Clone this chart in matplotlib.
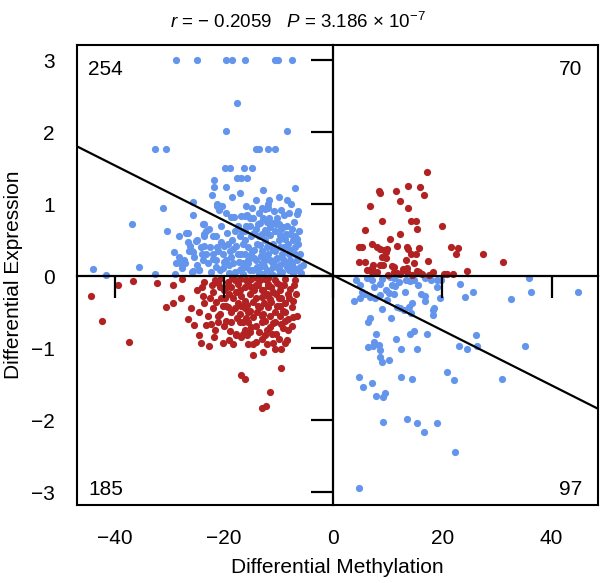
import numpy as np
import matplotlib
matplotlib.use('Agg')
import matplotlib.pyplot as plt

# Fonts
plt.rcParams['font.family'] = ['Liberation Sans', 'DejaVu Sans']
plt.rcParams['mathtext.fontset'] = 'custom'
plt.rcParams['mathtext.rm'] = 'Liberation Sans'
plt.rcParams['mathtext.it'] = 'Liberation Sans:italic'

# Data: (differential methylation, differential expression)
# blue = opposite direction (upper left / lower right), red = same direction
blue_upper_left = [
    (-28.7, 3.0), (-24.9, 3.0), (-19.7, 3.0), (-18.6, 3.0), (-16.2, 3.0), (-10.7, 3.0), (-10.1, 3.0), (-7.6, 3.0),
    (-17.6, 2.41), (-19.6, 2.01), (-8.4, 2.01),
    (-14.1, 1.77), (-13.6, 1.77), (-11.9, 1.77), (-10.6, 1.77), (-32.6, 1.77), (-30.6, 1.77),
    (-19.8, 1.50), (-18.8, 1.50), (-16.4, 1.50), (-14.9, 1.50),
    (-17.6, 1.36), (-16.8, 1.36), (-15.7, 1.36), (-21.8, 1.34), (-21.9, 1.24), (-19.7, 1.24), (-7.0, 1.23), (-22.2, 1.13),
    (-8.4, 1.05), (-11.7, 1.05), (-6.7, 0.86), (-21.2, 0.98), (-20.3, 0.98),
    (-25.7, 1.03), (-31.1, 0.94), (-25.7, 0.85), (-36.9, 0.73), (-30.4, 0.63), (-28.3, 0.56), (-26.6, 0.60), (-24.9, 0.50),
    (-29.2, 0.34), (-26.2, 0.42), (-25.7, 0.34), (-28.3, 0.27), (-24.1, 0.31), (-28.7, 0.18), (-28.0, 0.18), (-27.2, 0.18),
    (-24.5, 0.09), (-25.8, 0.06), (-44.0, 0.10), (-41.5, 0.01), (-35.6, 0.12), (-32.7, 0.03), (-28.9, 0.03),
    (-23.6, 0.72), (-23.6, 0.58), (-23.6, 0.42),
    (-11.9, 1.00), (-21.3, 1.00), (-20.9, 0.92), (-13.1, 0.95), (-19.6, 0.88), (-18.7, 0.82), (-18.2, 0.82), (-16.8, 0.84),
    (-16.2, 0.84), (-15.3, 0.81), (-13.6, 0.88), (-12.5, 0.93), (-12.9, 0.81), (-10.3, 0.81), (-13.4, 0.74), (-12.1, 0.75),
    (-11.0, 0.74), (-9.9, 0.73), (-9.2, 0.68),
    (-23.9, 0.73), (-26.9, 0.60), (-26.6, 0.48), (-25.8, 0.35), (-25.1, 0.49), (-23.6, 0.55), (-23.3, 0.62), (-22.0, 0.55),
    (-21.3, 0.41), (-19.9, 0.42), (-18.4, 0.38), (-18.0, 0.62), (-16.6, 0.62), (-16.2, 0.50), (-15.3, 0.69), (-14.7, 0.59),
    (-14.1, 0.66), (-13.1, 0.59), (-12.5, 0.64), (-11.6, 0.57), (-10.7, 0.62), (-9.8, 0.57), (-8.85, 0.52), (-7.9, 0.59),
    (-7.3, 0.50), (-6.6, 0.52), (-7.0, 0.41), (-7.9, 0.36), (-9.8, 0.41), (-11.0, 0.36), (-12.2, 0.41), (-13.4, 0.43),
    (-14.4, 0.36), (-15.0, 0.29), (-15.6, 0.22), (-14.1, 0.22), (-12.8, 0.27), (-11.6, 0.22), (-10.4, 0.24), (-9.15, 0.24),
    (-7.9, 0.22), (-6.7, 0.22), (-6.1, 0.13), (-7.3, 0.13), (-8.5, 0.13), (-9.8, 0.15), (-11.0, 0.13), (-12.2, 0.08),
    (-13.4, 0.13), (-14.7, 0.08), (-15.9, 0.13), (-17.1, 0.08), (-18.4, 0.18), (-19.6, 0.22), (-20.2, 0.11), (-21.4, 0.13),
    (-22.0, 0.24), (-23.3, 0.31), (-23.9, 0.23), (-25.4, 0.26), (-27.3, 0.22), (-27.6, 0.11), (-25.7, 0.07), (-24.5, 0.08),
    (-22.35, 0.05), (-19.0, 0.04), (-16.5, 0.03), (-12.8, 0.03), (-9.8, 0.04), (-7.3, 0.04), (-5.8, 0.04), (-20.2, 0.31),
    (-18.7, 0.27), (-16.8, 0.31), (-21.4, 0.22),
    (-16.0, 0.70), (-15.0, 0.55), (-14.0, 0.45), (-13.0, 0.35), (-12.0, 0.30), (-11.0, 0.45), (-10.0, 0.50), (-9.0, 0.40),
    (-8.0, 0.30), (-7.5, 0.65), (-8.5, 0.70), (-9.5, 0.65), (-10.5, 0.72), (-11.5, 0.68), (-12.5, 0.50), (-13.5, 0.55),
    (-14.5, 0.25), (-15.5, 0.40), (-16.5, 0.45), (-17.5, 0.30), (-10.0, 0.10), (-11.5, 0.05), (-13.0, 0.18), (-14.0, 0.12),
    (-15.2, 0.08), (-16.5, 0.18), (-8.0, 0.08), (-7.0, 0.30), (-6.5, 0.45), (-6.2, 0.62), (-9.0, 0.85), (-10.8, 0.90),
    (-12.0, 0.95), (-14.8, 0.95), (-16.0, 0.98), (-17.5, 0.70), (-18.5, 0.50), (-19.5, 0.60), (-20.5, 0.70), (-21.5, 0.55),
    (-22.5, 0.40), (-23.0, 0.18), (-20.8, 0.08), (-19.0, 0.15), (-18.0, 0.05), (-17.0, 0.55), (-12.2, 0.60), (-11.2, 0.20),
    (-9.3, 0.30), (-8.2, 0.45), (-7.6, 0.18), (-6.8, 0.08), (-13.8, 0.72), (-14.6, 0.80), (-15.8, 0.85), (-11.8, 0.80),
    (-10.2, 0.25), (-12.6, 0.14), (-9.0, 0.20), (-8.6, 0.58), (-10.6, 0.35), (-11.9, 0.42), (-13.2, 0.28), (-14.9, 0.35),
    (-16.2, 0.30), (-17.8, 0.42), (-18.9, 0.35), (-20.0, 0.20), (-21.0, 0.35), (-22.8, 0.65), (-24.2, 0.40), (-25.0, 0.15),
    (-26.4, 0.35), (-7.2, 0.75), (-8.0, 0.88), (-9.6, 0.92), (-15.5, 0.18), (-16.8, 0.10), (-13.6, 0.04), (-11.0, 0.02),
    (-6.0, 0.30), (-5.5, 0.15), (-6.5, 0.90), (-7.8, 1.00), (-10.0, 1.10), (-14.2, 1.05), (-17.0, 1.15), (-18.6, 1.10),
    (-12.8, 1.20), (-9.3, 0.05), (-10.8, 0.15), (-12.4, 0.22), (-14.5, 0.60), (-16.2, 0.62), (-17.2, 0.20), (-19.2, 0.45),
    (-20.6, 0.48), (-22.0, 0.30), (-8.8, 0.18), (-7.0, 0.55),
]

blue_lower_right = [
    (6.2, -0.03), (7.1, -0.05), (10.5, -0.01), (11.2, -0.03), (11.4, 0.0), (13.3, -0.05), (14.1, -0.07), (14.8, -0.06),
    (16.9, -0.03), (17.9, -0.06), (19.1, -0.05), (19.7, -0.06), (8.66, -0.11), (9.6, -0.19), (10.2, -0.23), (11.1, -0.25),
    (8.5, -0.26), (7.7, -0.31), (6.8, -0.29), (5.3, -0.22), (4.85, -0.31), (5.9, -0.25), (11.3, -0.14), (13.1, -0.22),
    (14.5, -0.38), (16.9, -0.28), (16.9, -0.35), (18.97, -0.15), (19.6, -0.30), (23.3, -0.11), (24.1, -0.29), (25.7, -0.22),
    (32.6, -0.32), (35.9, -0.02), (36.3, -0.22), (44.75, -0.22),
    (9.9, -0.33), (11.7, -0.43), (12.3, -0.44), (12.95, -0.47), (13.9, -0.43), (14.2, -0.51), (8.96, -0.46), (10.6, -0.58),
    (18.2, -0.47), (18.5, -0.44), (18.2, -0.54), (6.7, -0.58), (6.3, -0.64), (7.85, -0.81),
    (6.3, -0.98), (7.4, -0.91), (7.3, -0.97), (8.35, -0.96), (8.66, -1.02), (8.5, -1.13), (8.96, -1.19), (10.2, -1.16),
    (11.5, -0.88), (12.5, -1.01), (14.1, -0.80), (14.8, -0.76), (15.4, -1.01), (17.1, -0.81), (23.1, -0.97), (24.6, -1.01),
    (26.1, -0.82), (26.3, -0.97), (35.05, -0.97),
    (4.79, -1.40), (5.4, -1.54), (7.1, -1.48), (7.9, -1.67), (9.1, -1.68), (9.5, -1.62), (12.5, -1.40), (14.4, -1.43),
    (20.8, -1.33), (22.2, -1.44), (30.9, -1.43),
    (9.15, -2.03), (13.6, -1.99), (15.3, -2.04), (18.97, -2.04), (16.6, -2.17), (22.3, -2.45), (4.7, -2.94),
    (4.2, -0.05), (5.0, -0.12), (7.5, -0.15), (9.0, -0.04), (12.0, -0.08), (15.5, -0.12), (16.0, -0.25), (10.8, -0.12),
    (3.8, -0.35),
]

red_lower_left = [
    (-29.4, -0.13), (-27.6, -0.04), (-24.0, -0.15), (-23.6, -0.08), (-22.2, -0.13), (-21.7, -0.05), (-20.8, -0.15),
    (-19.3, -0.08), (-18.7, -0.15), (-17.4, -0.11), (-17.1, -0.04), (-16.2, -0.15), (-15.6, -0.08), (-15.0, -0.04),
    (-14.1, -0.13), (-13.4, -0.06), (-12.5, -0.04), (-11.9, -0.11), (-11.3, -0.15), (-10.7, -0.06), (-9.8, -0.13),
    (-8.8, -0.04), (-7.9, -0.18), (-7.0, -0.06), (-12.8, -0.20), (-12.2, -0.25), (-11.0, -0.22), (-9.8, -0.20),
    (-30.6, -0.43), (-29.4, -0.38), (-27.9, -0.31), (-23.9, -0.27), (-22.0, -0.22), (-21.4, -0.36), (-20.5, -0.31),
    (-19.6, -0.41), (-19.0, -0.25), (-18.4, -0.31), (-17.4, -0.38), (-16.8, -0.27), (-16.2, -0.34), (-15.3, -0.25),
    (-14.7, -0.36), (-13.8, -0.41), (-13.1, -0.29), (-11.9, -0.27), (-11.3, -0.36), (-10.4, -0.25), (-9.5, -0.31),
    (-8.8, -0.38), (-7.3, -0.35), (-9.8, -0.41), (-7.6, -0.43),
    (-26.6, -0.59), (-24.5, -0.50), (-23.6, -0.38), (-22.0, -0.45), (-20.8, -0.52), (-20.2, -0.41), (-19.3, -0.43),
    (-18.7, -0.50), (-18.0, -0.45), (-17.1, -0.52), (-16.2, -0.45), (-15.6, -0.50), (-14.7, -0.57), (-13.4, -0.43),
    (-12.8, -0.52), (-11.9, -0.43), (-11.6, -0.55), (-10.7, -0.50), (-9.8, -0.55), (-8.8, -0.50), (-8.2, -0.59),
    (-7.3, -0.57), (-6.7, -0.55),
    (-25.4, -0.68), (-23.3, -0.68), (-22.3, -0.66), (-21.7, -0.75), (-21.1, -0.64), (-19.6, -0.62), (-18.7, -0.64),
    (-17.1, -0.64), (-16.5, -0.64), (-15.6, -0.64), (-15.0, -0.71), (-14.1, -0.69), (-13.1, -0.64), (-12.2, -0.75),
    (-11.6, -0.71), (-10.7, -0.64), (-10.4, -0.80), (-9.5, -0.66), (-8.8, -0.62), (-7.6, -0.69), (-8.2, -0.75),
    (-24.6, -0.82), (-24.2, -0.93), (-22.8, -0.97), (-20.2, -0.93), (-19.0, -0.89), (-18.4, -0.94), (-17.7, -0.82),
    (-16.8, -0.85), (-16.2, -0.75), (-15.8, -0.82), (-15.3, -0.78), (-14.7, -0.94), (-15.6, -0.94), (-14.1, -0.92),
    (-13.1, -0.87), (-12.5, -0.82), (-12.2, -0.94), (-11.0, -0.93), (-10.7, -1.01), (-9.5, -1.01), (-8.8, -0.93),
    (-8.5, -0.89), (-14.7, -1.10), (-12.8, -1.06), (-16.5, -0.80), (-17.7, -0.81),
    (-44.3, -0.27), (-42.4, -0.63), (-37.4, -0.92), (-39.4, -0.125), (-36.7, -0.07), (-32.2, -0.09),
    (-9.6, -1.28), (-16.9, -1.38), (-16.1, -1.43), (-11.6, -1.61), (-13.1, -1.83), (-12.3, -1.80),
    (-21.0, -0.10), (-20.0, -0.20), (-18.0, -0.06), (-17.0, -0.20), (-16.0, -0.05), (-14.5, -0.20), (-13.8, -0.12),
    (-12.0, -0.14), (-10.2, -0.10), (-9.0, -0.12), (-8.2, -0.25), (-10.0, -0.30), (-11.5, -0.32), (-12.6, -0.38),
    (-14.2, -0.30), (-15.8, -0.40), (-17.8, -0.22), (-19.8, -0.30), (-21.0, -0.55), (-19.9, -0.70), (-17.6, -0.58),
    (-16.0, -0.58), (-14.0, -0.50), (-12.4, -0.62), (-10.2, -0.42), (-9.2, -0.48), (-8.0, -0.30), (-7.2, -0.12),
    (-6.8, -0.25), (-11.2, -0.80), (-13.5, -0.78), (-18.9, -0.76), (-22.6, -0.30), (-23.0, -0.55), (-25.0, -0.20),
    (-26.0, -0.45), (-13.0, -0.20), (-15.0, -0.15), (-19.5, -0.15), (-9.2, -0.72), (-10.0, -0.88), (-12.0, -0.03),
    (-14.0, -0.03), (-18.5, -0.03), (-20.5, -0.03), (-16.8, -0.42), (-13.0, -0.55), (-11.0, -0.65), (-15.2, -0.48),
    (-21.8, -0.85),
]

red_upper_right = [
    (17.25, 1.44), (13.7, 1.25), (15.9, 1.24), (8.35, 1.18), (8.65, 1.16), (11.6, 1.18), (16.6, 1.12), (12.3, 1.04),
    (6.8, 0.97), (13.7, 0.94), (8.96, 0.76), (14.2, 0.76), (15.1, 0.76), (15.4, 0.65), (20.0, 0.70), (5.9, 0.64),
    (12.2, 0.58), (10.4, 0.52), (4.67, 0.41), (5.28, 0.41), (7.1, 0.44), (8.04, 0.41), (8.66, 0.37), (9.27, 0.36),
    (9.9, 0.38), (9.6, 0.34), (11.7, 0.42), (13.45, 0.41), (13.7, 0.38), (15.7, 0.39), (14.2, 0.31), (15.1, 0.31),
    (21.55, 0.40), (22.9, 0.39), (22.5, 0.31), (27.4, 0.31), (31.1, 0.19), (8.96, 0.27), (9.6, 0.25), (13.3, 0.22),
    (17.4, 0.21), (4.67, 0.19), (5.77, 0.19), (7.3, 0.15), (7.1, 0.11), (8.66, 0.15), (9.15, 0.16), (10.8, 0.14),
    (11.2, 0.13), (6.2, 0.08), (7.1, 0.06), (11.1, 0.05), (11.7, 0.04), (12.3, 0.03), (13.45, 0.11), (13.6, 0.05),
    (15.4, 0.07), (15.7, 0.05), (16.3, 0.03), (17.55, 0.01), (18.35, 0.06), (20.3, 0.03), (20.9, 0.03), (22.0, 0.03),
    (24.6, 0.07), (14.5, 0.01), (10.0, 0.02), (12.8, 0.10), (8.0, 0.05), (14.8, 0.18),
]

# Numbers printed in the corners (upper left, upper right, lower left, lower right)
quadrant_counts = [254, 70, 185, 97]

# Fitted line and correlation from the title
fit_intercept = 0.01
fit_slope = -0.0382
r_value = '0.2059'
p_mantissa = '3.186'
p_exponent = '-7'

x_ticks = [-40, -20, 0, 20, 40]
y_ticks = [-3, -2, -1, 0, 1, 2, 3]

blue = '#6495ED'
red = '#B22222'

fig = plt.figure(figsize=(6, 5.83), dpi=100)
ax = fig.add_axes([77 / 600, 78 / 583, 521 / 600, 460 / 583])
ax.set_xlim(-46.9, 48.5)
ax.set_ylim(-3.18, 3.21)

# points
for pts, col in [(blue_upper_left, blue), (blue_lower_right, blue),
                 (red_lower_left, red), (red_upper_right, red)]:
    arr = np.array(pts)
    ax.scatter(arr[:, 0], arr[:, 1], s=27, color=col, linewidths=0, zorder=2)

# regression line
ax.axline((0, fit_intercept), slope=fit_slope, color='black', lw=1.6, zorder=3)

# outer box + tick labels (no tick marks at the box)
for sp in ax.spines.values():
    sp.set_linewidth(1.5)
ax.set_xticks(x_ticks)
ax.set_yticks(y_ticks)
ax.set_xticklabels([str(t).replace('-', '\u2212') for t in x_ticks])
ax.set_yticklabels([str(t).replace('-', '\u2212') for t in y_ticks])
ax.tick_params(axis='x', length=0, pad=17, labelsize=15)
ax.tick_params(axis='y', length=0, pad=16, labelsize=15)
ax.set_xlabel('Differential Methylation', fontsize=15)
ax.set_ylabel('Differential Expression', fontsize=15)
ax.xaxis.set_label_coords(0.5, -0.115)
ax.yaxis.set_label_coords(-0.104, 0.5)

# overlay axes: zero lines carrying the tick marks
ax2 = fig.add_axes(ax.get_position())
ax2.set_xlim(ax.get_xlim())
ax2.set_ylim(ax.get_ylim())
ax2.patch.set_visible(False)
ax2.spines['top'].set_visible(False)
ax2.spines['right'].set_visible(False)
ax2.spines['left'].set_position(('data', 0))
ax2.spines['bottom'].set_position(('data', 0))
ax2.spines['left'].set_linewidth(1.6)
ax2.spines['bottom'].set_linewidth(1.6)
ax2.set_xticks(x_ticks)
ax2.set_yticks(y_ticks)
ax2.tick_params(direction='out', length=15.5, width=1.6,
                labelleft=False, labelbottom=False)

# quadrant counts
kw = dict(transform=ax.transAxes, fontsize=15)
ax.text(0.021, 0.935, str(quadrant_counts[0]), ha='left', va='baseline', **kw)
ax.text(0.969, 0.935, str(quadrant_counts[1]), ha='right', va='baseline', **kw)
ax.text(0.021, 0.022, str(quadrant_counts[2]), ha='left', va='baseline', **kw)
ax.text(0.969, 0.022, str(quadrant_counts[3]), ha='right', va='baseline', **kw)

# title
title = ('$r$ = \u2212 ' + r_value + '   $P$ = ' + p_mantissa +
         ' \u00d7 10$^{' + p_exponent + '}$')
fig.text(0.497, 1 - 27.5 / 583, title, ha='center', va='baseline', fontsize=13.5)

fig.savefig('out.png', dpi=100)
